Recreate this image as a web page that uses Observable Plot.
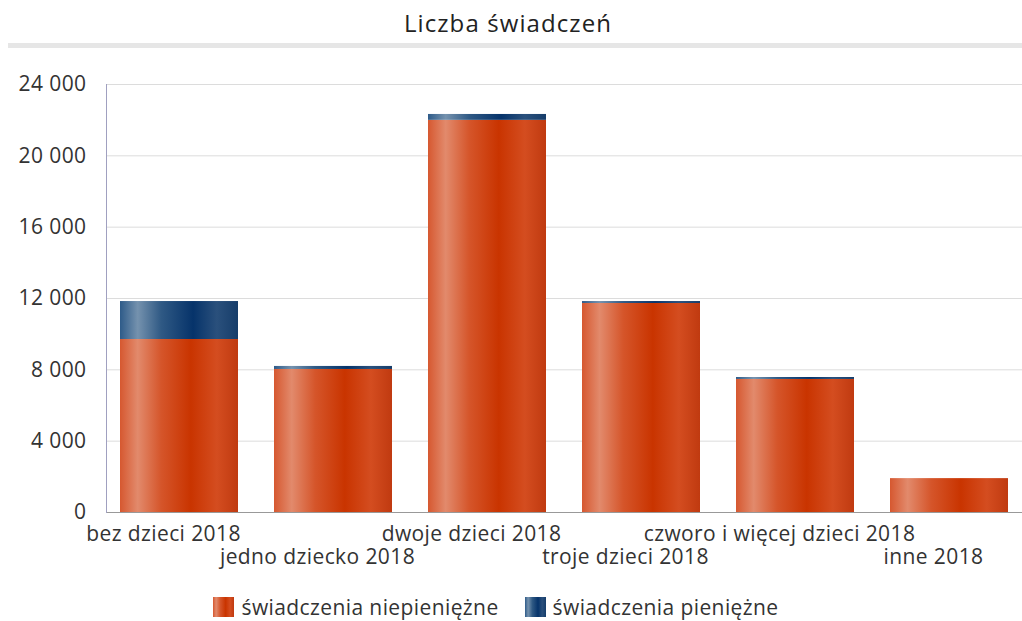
<!DOCTYPE html>
<html>
<head>
<meta charset="utf-8">
<script src="https://cdn.jsdelivr.net/npm/d3@7"></script>
<script src="https://cdn.jsdelivr.net/npm/@observablehq/plot@0.6"></script>
<style>
  html, body { margin: 0; padding: 0; background: #fff; }
  body { width: 1022px; height: 621px; overflow: hidden; font-family: "Open Sans", sans-serif; color: #333; }
  #title { font-size: 24px; letter-spacing: 1.1px; color: #222; text-align: center; height: 43px; line-height: 46px; margin-left: 8px; padding-right: 14px; border-bottom: 5px solid #e6e6e6; }
  #chart svg { display: block; }
  #legend { display: flex; justify-content: center; gap: 26px; font-size: 21px; line-height: 22px; letter-spacing: 0.4px; margin-top: 6px; padding-right: 30px; }
  #legend span.item { display: flex; align-items: center; }
  #legend span.sw { display: inline-block; width: 21px; height: 20px; margin-right: 7px; }
</style>
</head>
<body>
<div id="title">Liczba świadczeń</div>
<div id="chart"></div>
<div id="legend"></div>
<script>
const categories = ["bez dzieci 2018", "jedno dziecko 2018", "dwoje dzieci 2018", "troje dzieci 2018", "czworo i więcej dzieci 2018", "inne 2018"];
const seriesNames = ["świadczenia niepieniężne", "świadczenia pieniężne"];
const niepieniezne = [9700, 8020, 21990, 11720, 7460, 1900];
const pieniezne = [2130, 170, 330, 110, 110, 0];
const yTicks = [0, 4000, 8000, 12000, 16000, 20000, 24000];

const data = [];
categories.forEach((c, i) => {
  data.push({cat: c, series: seriesNames[0], value: niepieniezne[i]});
  data.push({cat: c, series: seriesNames[1], value: pieniezne[i]});
});

const orangeStops = [[0, "#d65830"], [0.15, "#e28a6c"], [0.35, "#d5552a"], [0.6, "#c93400"], [0.82, "#d44d20"], [1, "#c03a10"]];
const blueStops = [[0, "#2e5b89"], [0.15, "#7592ae"], [0.35, "#2f5984"], [0.62, "#06336a"], [0.82, "#2a507c"], [1, "#163d6a"]];

function gradDefs() {
  const ns = "http://www.w3.org/2000/svg";
  const defs = document.createElementNS(ns, "defs");
  [["gOrange", orangeStops], ["gBlue", blueStops]].forEach(([id, stops]) => {
    const lg = document.createElementNS(ns, "linearGradient");
    lg.setAttribute("id", id);
    lg.setAttribute("x1", "0"); lg.setAttribute("x2", "1");
    lg.setAttribute("y1", "0"); lg.setAttribute("y2", "0");
    stops.forEach(([o, c]) => {
      const s = document.createElementNS(ns, "stop");
      s.setAttribute("offset", o);
      s.setAttribute("stop-color", c);
      lg.appendChild(s);
    });
    defs.appendChild(lg);
  });
  return defs;
}

const fmt = d => d3.format(",")(d).replace(/,/g, " ");

const chart = Plot.plot({
  width: 1022,
  height: 542,
  marginTop: 36,
  marginBottom: 78,
  marginLeft: 106,
  marginRight: 0,
  style: {fontFamily: "Open Sans, sans-serif", fontSize: "21px", color: "#333", background: "#fff", letterSpacing: "0.4px"},
  x: {domain: categories, paddingInner: 0.235, paddingOuter: 0.09, axis: null},
  y: {domain: [0, 24000], ticks: yTicks, axis: null},
  color: {type: "ordinal", domain: seriesNames, range: ["url(#gOrange)", "url(#gBlue)"]},
  marks: [
    gradDefs,
    Plot.gridY(yTicks, {stroke: "#dcdcdc", strokeOpacity: 1}),
    Plot.axisY(yTicks, {tickSize: 0, tickPadding: 20, tickFormat: fmt, fontSize: 21, fill: "#333", label: null}),
    Plot.barY(data, {x: "cat", y: "value", fill: "series"}),
    Plot.ruleY([0], {stroke: "#999"}),
    Plot.frame({anchor: "left", stroke: "#a0a0c0"}),
    Plot.text(categories.filter((d, i) => i % 2 === 0), {x: d => d, frameAnchor: "bottom", dy: 28, dx: -16, text: d => d, fontSize: 21, fill: "#333"}),
    Plot.text(categories.filter((d, i) => i % 2 === 1), {x: d => d, frameAnchor: "bottom", dy: 51, dx: -16, text: d => d, fontSize: 21, fill: "#333"})
  ]
});
document.getElementById("chart").appendChild(chart);

const legend = document.getElementById("legend");
seriesNames.forEach((name, i) => {
  const stops = i === 0 ? orangeStops : blueStops;
  const item = document.createElement("span");
  item.className = "item";
  const sw = document.createElement("span");
  sw.className = "sw";
  sw.style.background = "linear-gradient(to right, " + stops.map(([o, c]) => c + " " + (o * 100) + "%").join(", ") + ")";
  item.appendChild(sw);
  item.appendChild(document.createTextNode(name));
  legend.appendChild(item);
});
</script>
</body>
</html>
